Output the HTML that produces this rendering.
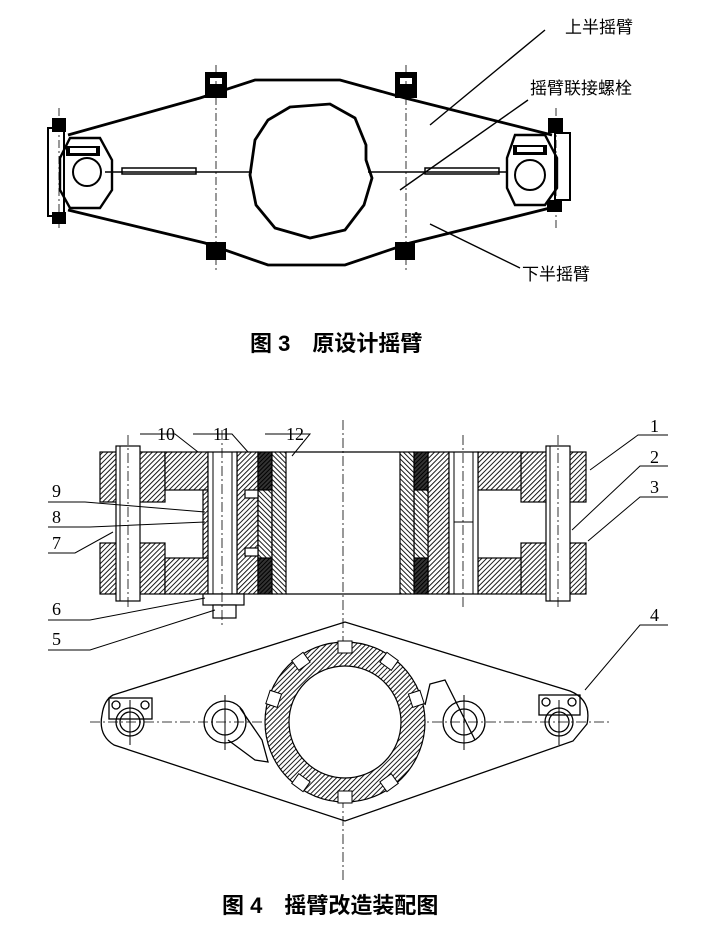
<!DOCTYPE html>
<html><head><meta charset="utf-8"><style>
html,body{margin:0;padding:0;background:#fff}
svg{display:block}
.t{font-family:"Liberation Sans","Noto Sans CJK SC",sans-serif}
.n{font-family:"Liberation Serif",serif;font-size:18px}
</style></head><body>
<svg width="709" height="930" viewBox="0 0 709 930" xmlns="http://www.w3.org/2000/svg">
<defs>
<pattern id="h" width="3.5" height="3.5" patternUnits="userSpaceOnUse" patternTransform="rotate(45)">
<rect width="3.5" height="3.5" fill="#fff"/><line x1="0" y1="0" x2="0" y2="3.5" stroke="#000" stroke-width="1.8"/></pattern>
<pattern id="h2" width="3.5" height="3.5" patternUnits="userSpaceOnUse" patternTransform="rotate(-45)">
<rect width="3.5" height="3.5" fill="#fff"/><line x1="0" y1="0" x2="0" y2="3.5" stroke="#000" stroke-width="1.8"/></pattern>
<pattern id="d" width="3" height="3" patternUnits="userSpaceOnUse" patternTransform="rotate(45)">
<rect width="3" height="3" fill="#333"/><line x1="0" y1="0" x2="0" y2="3" stroke="#000" stroke-width="2"/></pattern>
</defs>

<!-- ===== Figure 3 ===== -->
<g fill="none" stroke="#000" stroke-width="2.8">
<polyline points="68,135 200,98 255,80 340,80 405,98 552,135"/>
<polyline points="68,210 205,243 268,265 345,265 410,243 550,208"/>
<path d="M290,107 L330,104 L355,118 L366,145 L366,160 L372,178 L364,205 L345,230 L310,238 L275,228 L256,205 L250,175 L255,140 L268,120 Z"/>
<line x1="105" y1="172" x2="252" y2="172" stroke-width="1.5"/>
<line x1="368" y1="172" x2="508" y2="172" stroke-width="1.5"/>
<rect x="48" y="128" width="16" height="88" stroke-width="2"/>
<polygon points="70,138 100,138 112,160 112,190 100,208 70,208 60,190 60,158" stroke-width="2.4"/>
<circle cx="87" cy="172" r="14" stroke-width="2"/>
</g>
<g fill="#000">
<rect x="52" y="118" width="14" height="14"/><rect x="52" y="212" width="14" height="12"/>
<rect x="66" y="146" width="34" height="10"/>
<rect x="548" y="118" width="15" height="15"/><rect x="547" y="200" width="15" height="12"/>
<rect x="513" y="145" width="34" height="10"/>
<rect x="205" y="72" width="22" height="26"/><rect x="206" y="242" width="20" height="18"/>
<rect x="395" y="72" width="22" height="26"/><rect x="395" y="242" width="20" height="18"/>
</g>
<g fill="#fff"><rect x="210" y="78" width="12" height="6"/><rect x="400" y="78" width="12" height="6"/>
<rect x="70" y="148" width="26" height="5"/><rect x="517" y="147" width="26" height="5"/></g>
<g fill="none" stroke="#000" stroke-width="2">
<rect x="555" y="133" width="15" height="67"/>
<polygon points="515,135 545,135 557,158 557,188 545,205 515,205 507,188 507,158" stroke-width="2.4"/>
<circle cx="530" cy="175" r="15"/>
<rect x="122" y="168" width="74" height="6" stroke-width="1.5"/>
<rect x="425" y="168" width="74" height="6" stroke-width="1.5"/>
</g>
<g stroke="#000" stroke-width="0.8" stroke-dasharray="8,3,2,3">
<line x1="216" y1="65" x2="216" y2="270"/><line x1="406" y1="65" x2="406" y2="270"/>
<line x1="59" y1="108" x2="59" y2="230"/><line x1="556" y1="108" x2="556" y2="230"/>
</g>
<g stroke="#000" stroke-width="1.4">
<line x1="545" y1="30" x2="430" y2="125"/>
<line x1="528" y1="100" x2="400" y2="190"/>
<line x1="520" y1="268" x2="430" y2="224"/>
</g>
<g class="t" font-size="17">
<text x="565" y="33">上半摇臂</text>
<text x="530" y="94">摇臂联接螺栓</text>
<text x="522" y="280">下半摇臂</text>
</g>
<text class="t" x="250" y="351" font-size="22" font-weight="bold">图 3　原设计摇臂</text>

<!-- ===== Figure 4 top (section) ===== -->
<g stroke="#000" stroke-width="1.2">
<rect x="100" y="452" width="65" height="50" fill="url(#h)"/>
<rect x="100" y="543" width="65" height="51" fill="url(#h)"/>
<rect x="165" y="452" width="43" height="38" fill="url(#h)"/>
<rect x="165" y="558" width="43" height="36" fill="url(#h)"/>
<rect x="203" y="490" width="6" height="68" fill="url(#h)"/>
<rect x="237" y="452" width="21" height="142" fill="url(#h)"/>
<rect x="258" y="452" width="14" height="38" fill="url(#d)"/>
<rect x="258" y="558" width="14" height="36" fill="url(#d)"/>
<rect x="258" y="490" width="14" height="68" fill="url(#h2)"/>
<rect x="272" y="452" width="14" height="142" fill="url(#h2)"/>
<rect x="245" y="490" width="13" height="8" fill="#fff"/>
<rect x="245" y="548" width="13" height="8" fill="#fff"/>
<rect x="116" y="446" width="24" height="155" fill="#fff"/>
<rect x="208" y="452" width="29" height="142" fill="#fff"/>
<rect x="203" y="594" width="41" height="11" fill="#fff"/>
<rect x="213" y="605" width="23" height="13" fill="#fff"/>
<rect x="521" y="452" width="65" height="50" fill="url(#h)"/>
<rect x="521" y="543" width="65" height="51" fill="url(#h)"/>
<rect x="478" y="452" width="43" height="38" fill="url(#h)"/>
<rect x="478" y="558" width="43" height="36" fill="url(#h)"/>
<rect x="428" y="452" width="21" height="142" fill="url(#h)"/>
<rect x="414" y="452" width="14" height="38" fill="url(#d)"/>
<rect x="414" y="558" width="14" height="36" fill="url(#d)"/>
<rect x="414" y="490" width="14" height="68" fill="url(#h2)"/>
<rect x="400" y="452" width="14" height="142" fill="url(#h2)"/>
<rect x="546" y="446" width="24" height="155" fill="#fff"/>
<rect x="449" y="452" width="29" height="142" fill="#fff"/>
<line x1="286" y1="452" x2="400" y2="452"/>
<line x1="286" y1="594" x2="400" y2="594"/>
</g>
<g stroke="#000" stroke-width="1">
<line x1="213" y1="452" x2="213" y2="594"/><line x1="232" y1="452" x2="232" y2="594"/>
<line x1="454" y1="452" x2="454" y2="594"/><line x1="473" y1="452" x2="473" y2="594"/>
<line x1="120" y1="446" x2="120" y2="601"/><line x1="550" y1="446" x2="550" y2="601"/>
<line x1="454" y1="522" x2="473" y2="522"/>
</g>
<g stroke="#000" stroke-width="0.8" stroke-dasharray="10,3,2,3">
<line x1="343" y1="420" x2="343" y2="880"/>
<line x1="128" y1="435" x2="128" y2="610"/>
<line x1="222" y1="430" x2="222" y2="625"/>
<line x1="463" y1="435" x2="463" y2="610"/>
<line x1="558" y1="435" x2="558" y2="610"/>
<line x1="90" y1="722" x2="612" y2="722"/>
</g>
<g class="n" fill="#000">
<text x="157" y="440">10</text><text x="213" y="440">11</text><text x="286" y="440">12</text>
<text x="650" y="432">1</text><text x="650" y="463">2</text><text x="650" y="493">3</text>
<text x="52" y="497">9</text><text x="52" y="523">8</text><text x="52" y="549">7</text>
<text x="52" y="615">6</text><text x="52" y="645">5</text><text x="650" y="621">4</text>
</g>
<g stroke="#000" stroke-width="1" fill="none">
<polyline points="140,434 175,434 198,452"/>
<polyline points="193,434 232,434 248,452"/>
<polyline points="265,434 310,434 292,456"/>
<polyline points="668,435 638,435 590,470"/>
<polyline points="668,466 640,466 572,530"/>
<polyline points="668,497 640,497 588,541"/>
<polyline points="48,502 85,502 205,512"/>
<polyline points="48,527 90,527 205,522"/>
<polyline points="48,553 75,553 113,532"/>
<polyline points="48,620 90,620 205,598"/>
<polyline points="48,650 90,650 215,610"/>
<polyline points="668,625 640,625 585,690"/>
</g>

<!-- ===== Figure 4 bottom (plan) ===== -->
<g stroke="#000" stroke-width="1.3" fill="none">
<path d="M113,695 L345,622 L570,691 Q592,700 587,724 L573,741 L345,821 L114,745 Q98,735 102,715 Q104,700 113,695 Z"/>
<rect x="109" y="698" width="43" height="21"/>
<rect x="539" y="695" width="41" height="20"/>
<circle cx="116" cy="705" r="4"/><circle cx="145" cy="705" r="4"/>
<circle cx="546" cy="702" r="4"/><circle cx="572" cy="702" r="4"/>
<circle cx="130" cy="722" r="14"/><circle cx="130" cy="722" r="10"/>
<circle cx="559" cy="722" r="14"/><circle cx="559" cy="722" r="10"/>
<circle cx="225" cy="722" r="21"/><circle cx="225" cy="722" r="13"/>
<circle cx="464" cy="722" r="21"/><circle cx="464" cy="722" r="13"/>
<polyline points="240,708 262,740 268,762 255,760 228,740"/>
<polyline points="425,705 430,684 445,680 455,700 475,740"/>
</g>
<circle cx="345" cy="722" r="68" fill="none" stroke="url(#h)" stroke-width="24"/>
<circle cx="345" cy="722" r="80" fill="none" stroke="#000" stroke-width="1.2"/>
<circle cx="345" cy="722" r="56" fill="#fff" stroke="#000" stroke-width="1.2"/>
<g fill="#fff" stroke="#000" stroke-width="1">
<g transform="translate(345,722)">
<rect x="-7" y="-81" width="14" height="12"/>
<rect x="-7" y="-81" width="14" height="12" transform="rotate(36)"/>
<rect x="-7" y="-81" width="14" height="12" transform="rotate(72)"/>
<rect x="-7" y="-81" width="14" height="12" transform="rotate(144)"/>
<rect x="-7" y="-81" width="14" height="12" transform="rotate(180)"/>
<rect x="-7" y="-81" width="14" height="12" transform="rotate(216)"/>
<rect x="-7" y="-81" width="14" height="12" transform="rotate(288)"/>
<rect x="-7" y="-81" width="14" height="12" transform="rotate(324)"/>
</g>
</g>
<g stroke="#000" stroke-width="1">
<line x1="130" y1="700" x2="130" y2="745"/><line x1="559" y1="700" x2="559" y2="745"/>
<line x1="225" y1="695" x2="225" y2="750"/><line x1="464" y1="695" x2="464" y2="750"/>
</g>
<text class="t" x="222" y="913" font-size="22" font-weight="bold">图 4　摇臂改造装配图</text>
</svg>
</body></html>
